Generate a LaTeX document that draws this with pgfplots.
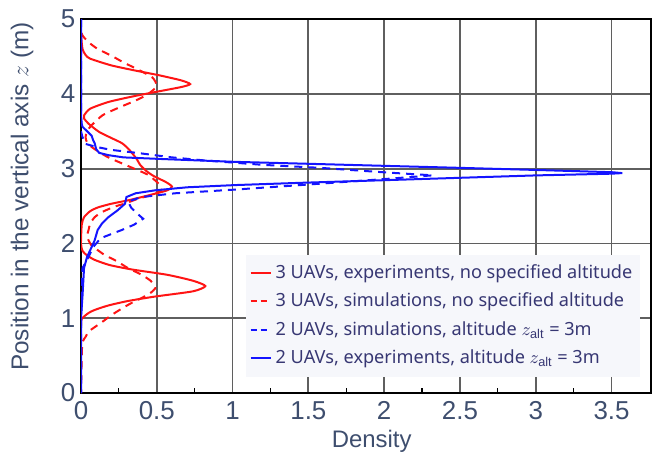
\documentclass[border=0pt]{standalone}
\usepackage{fontspec}
\setmainfont{Liberation Sans}
\newfontfamily\legfont{Noto Sans}
\usepackage{pgfplots}
\pgfplotsset{compat=1.18}
\definecolor{tickc}{RGB}{62,78,110}
\definecolor{legc}{RGB}{55,55,115}
\definecolor{gridc}{RGB}{95,95,95}
\definecolor{legbg}{RGB}{246,247,251}
\definecolor{myred}{RGB}{255,20,20}
\definecolor{myblue}{RGB}{20,20,255}
\begin{document}
\begin{tikzpicture}
\begin{axis}[
  at={(0,0)}, anchor=south west,
  scale only axis, width=285bp, height=187bp,
  xmin=0, xmax=3.76, ymin=0, ymax=5,
  xtick={0,0.5,1,1.5,2,2.5,3,3.5},
  xticklabels={0,0.5,1,1.5,2,2.5,3,3.5},
  ytick={0,1,2,3,4,5},
  yticklabels={0,1,2,3,4,5},
  minor x tick num=1,
  grid=major,
  major grid style={draw=gridc, line width=0.9bp},
  axis line style={black, line width=1bp},
  tick align=inside, xtick pos=bottom, ytick pos=left,
  major tick length=0pt, minor tick length=2.5bp,
  tick style={black, line width=0.6bp},
  ticklabel style={font=\fontsize{13}{15}\selectfont, text=tickc},
  yticklabel style={inner sep=1.5bp, xshift=-1.2bp},
  xticklabel style={inner sep=2bp, yshift=-2.2bp},
  /pgf/number format/assume math mode=true,
  xlabel={Density},
  ylabel={Position in the vertical axis $z$ (m)},
  xlabel style={at={(axis description cs:0.51,0)}, anchor=center, yshift=-24bp, font=\fontsize{12}{14}\selectfont, text=tickc},
  ylabel style={at={(axis description cs:-0.1035,0.525)}, anchor=center, font=\fontsize{12.2}{14}\selectfont, text=tickc},
  legend style={at={(0.982,0.043)}, anchor=south east, fill=legbg, draw=none,
    font=\legfont\fontsize{9.1}{10.9}\selectfont, text=legc, row sep=1.8bp,
    inner xsep=2bp, inner ysep=3bp},
  legend cell align=left,
  legend image code/.code={\draw[#1] (0bp,0bp) -- (10bp,0bp);},
]
\addplot[myred, line width=1bp, smooth, tension=0.4, forget plot] coordinates {
(0,5) (0,4.8) (0.01,4.6) (0.03,4.52) (0.06,4.47) (0.2,4.38) (0.36,4.31) (0.51,4.25) (0.66,4.18) (0.72,4.13) (0.66,4.09) (0.48,4.02) (0.33,3.96) (0.18,3.89) (0.06,3.8) (0.02,3.71) (0.02,3.67) (0.05,3.6) (0.12,3.49) (0.21,3.40) (0.27,3.34) (0.31,3.27) (0.34,3.2) (0.37,3.12) (0.39,3.05) (0.43,2.97) (0.48,2.9) (0.56,2.82) (0.60,2.76) (0.57,2.71) (0.46,2.65) (0.32,2.58) (0.2,2.53) (0.11,2.48) (0.06,2.43) (0.02,2.35) (0.005,2.25) (0,2.0) (0.01,1.9) (0.04,1.84) (0.09,1.78) (0.19,1.71) (0.34,1.65) (0.57,1.58) (0.74,1.5) (0.82,1.43) (0.74,1.36) (0.49,1.29) (0.31,1.23) (0.18,1.17) (0.09,1.11) (0.05,1.07) (0.01,1.0) (0,0.9) (0,0)
};
\addlegendimage{myred, line width=1bp, solid}
\addlegendentry{3 UAVs, experiments, no specified altitude}
\addplot[myred, line width=1bp, dash pattern=on 4bp off 3bp, smooth, tension=0.4, forget plot] coordinates {
(0,5) (0,4.85) (0.01,4.78) (0.05,4.69) (0.11,4.6) (0.20,4.51) (0.28,4.42) (0.37,4.33) (0.47,4.22) (0.50,4.11) (0.47,4.04) (0.43,3.98) (0.36,3.91) (0.29,3.85) (0.21,3.78) (0.14,3.71) (0.07,3.58) (0.04,3.5) (0.03,3.42) (0.04,3.35) (0.07,3.29) (0.12,3.22) (0.18,3.15) (0.27,3.07) (0.35,3.0) (0.44,2.92) (0.49,2.84) (0.52,2.78) (0.53,2.71) (0.47,2.65) (0.38,2.6) (0.30,2.54) (0.22,2.49) (0.14,2.42) (0.09,2.35) (0.06,2.26) (0.05,2.18) (0.04,2.1) (0.05,2.04) (0.07,1.97) (0.11,1.91) (0.16,1.84) (0.22,1.78) (0.27,1.72) (0.31,1.67) (0.40,1.58) (0.46,1.50) (0.48,1.44) (0.49,1.40) (0.46,1.34) (0.40,1.27) (0.33,1.2) (0.27,1.13) (0.20,1.04) (0.14,0.95) (0.09,0.88) (0.05,0.82) (0.03,0.75) (0.01,0.68) (0.005,0.5) (0,0)
};
\addlegendimage{myred, line width=1bp, dash pattern=on 3bp off 2bp}
\addlegendentry{3 UAVs, simulations, no specified altitude}
\addplot[myblue, line width=1bp, dash pattern=on 4bp off 3bp, forget plot] coordinates {
(0,5) (0,3.5) (0.01,3.42) (0.03,3.33) (0.10,3.29) (0.2,3.25) (0.37,3.21) (0.6,3.15) (0.81,3.11) (1.2,3.05) (1.58,3.01) (2.0,2.95) (2.32,2.91) (2.0,2.86) (1.45,2.78) (1.02,2.72) (0.62,2.67) (0.40,2.62) (0.31,2.56) (0.33,2.48) (0.37,2.40) (0.41,2.33) (0.35,2.25) (0.27,2.18) (0.13,2.07) (0.08,1.95) (0.05,1.82) (0.01,1.67) (0.005,1.3) (0,1.0) (0,0)
};
\addlegendimage{myblue, line width=1bp, dash pattern=on 3bp off 2bp}
\addlegendentry{2 UAVs, simulations, altitude $z_{\mathrm{alt}}$ = 3m}
\addplot[myblue, line width=1bp, forget plot] coordinates {
(0,5) (0,3.7) (0.005,3.6) (0.01,3.56) (0.04,3.5) (0.07,3.44) (0.08,3.38) (0.09,3.34) (0.10,3.26) (0.12,3.21) (0.18,3.18) (0.28,3.15) (0.51,3.13) (1.02,3.09) (1.45,3.067) (2.0,3.037) (2.5,3.01) (3.0,2.982) (3.5,2.952) (3.57,2.94) (3.5,2.932) (3.0,2.909) (2.5,2.877) (2.0,2.845) (1.45,2.81) (1.02,2.78) (0.7,2.75) (0.49,2.71) (0.36,2.67) (0.30,2.62) (0.29,2.53) (0.24,2.44) (0.18,2.35) (0.14,2.27) (0.11,2.18) (0.09,2.04) (0.07,1.95) (0.04,1.82) (0.02,1.67) (0.01,1.3) (0,1.0) (0,0)
};
\addlegendimage{myblue, line width=1bp, solid}
\addlegendentry{2 UAVs, experiments, altitude $z_{\mathrm{alt}}$ = 3m}
\end{axis}
\pgfresetboundingbox
\path[use as bounding box] (-40.5bp,-32bp) rectangle (289bp,196.5bp);
\end{tikzpicture}
\end{document}
